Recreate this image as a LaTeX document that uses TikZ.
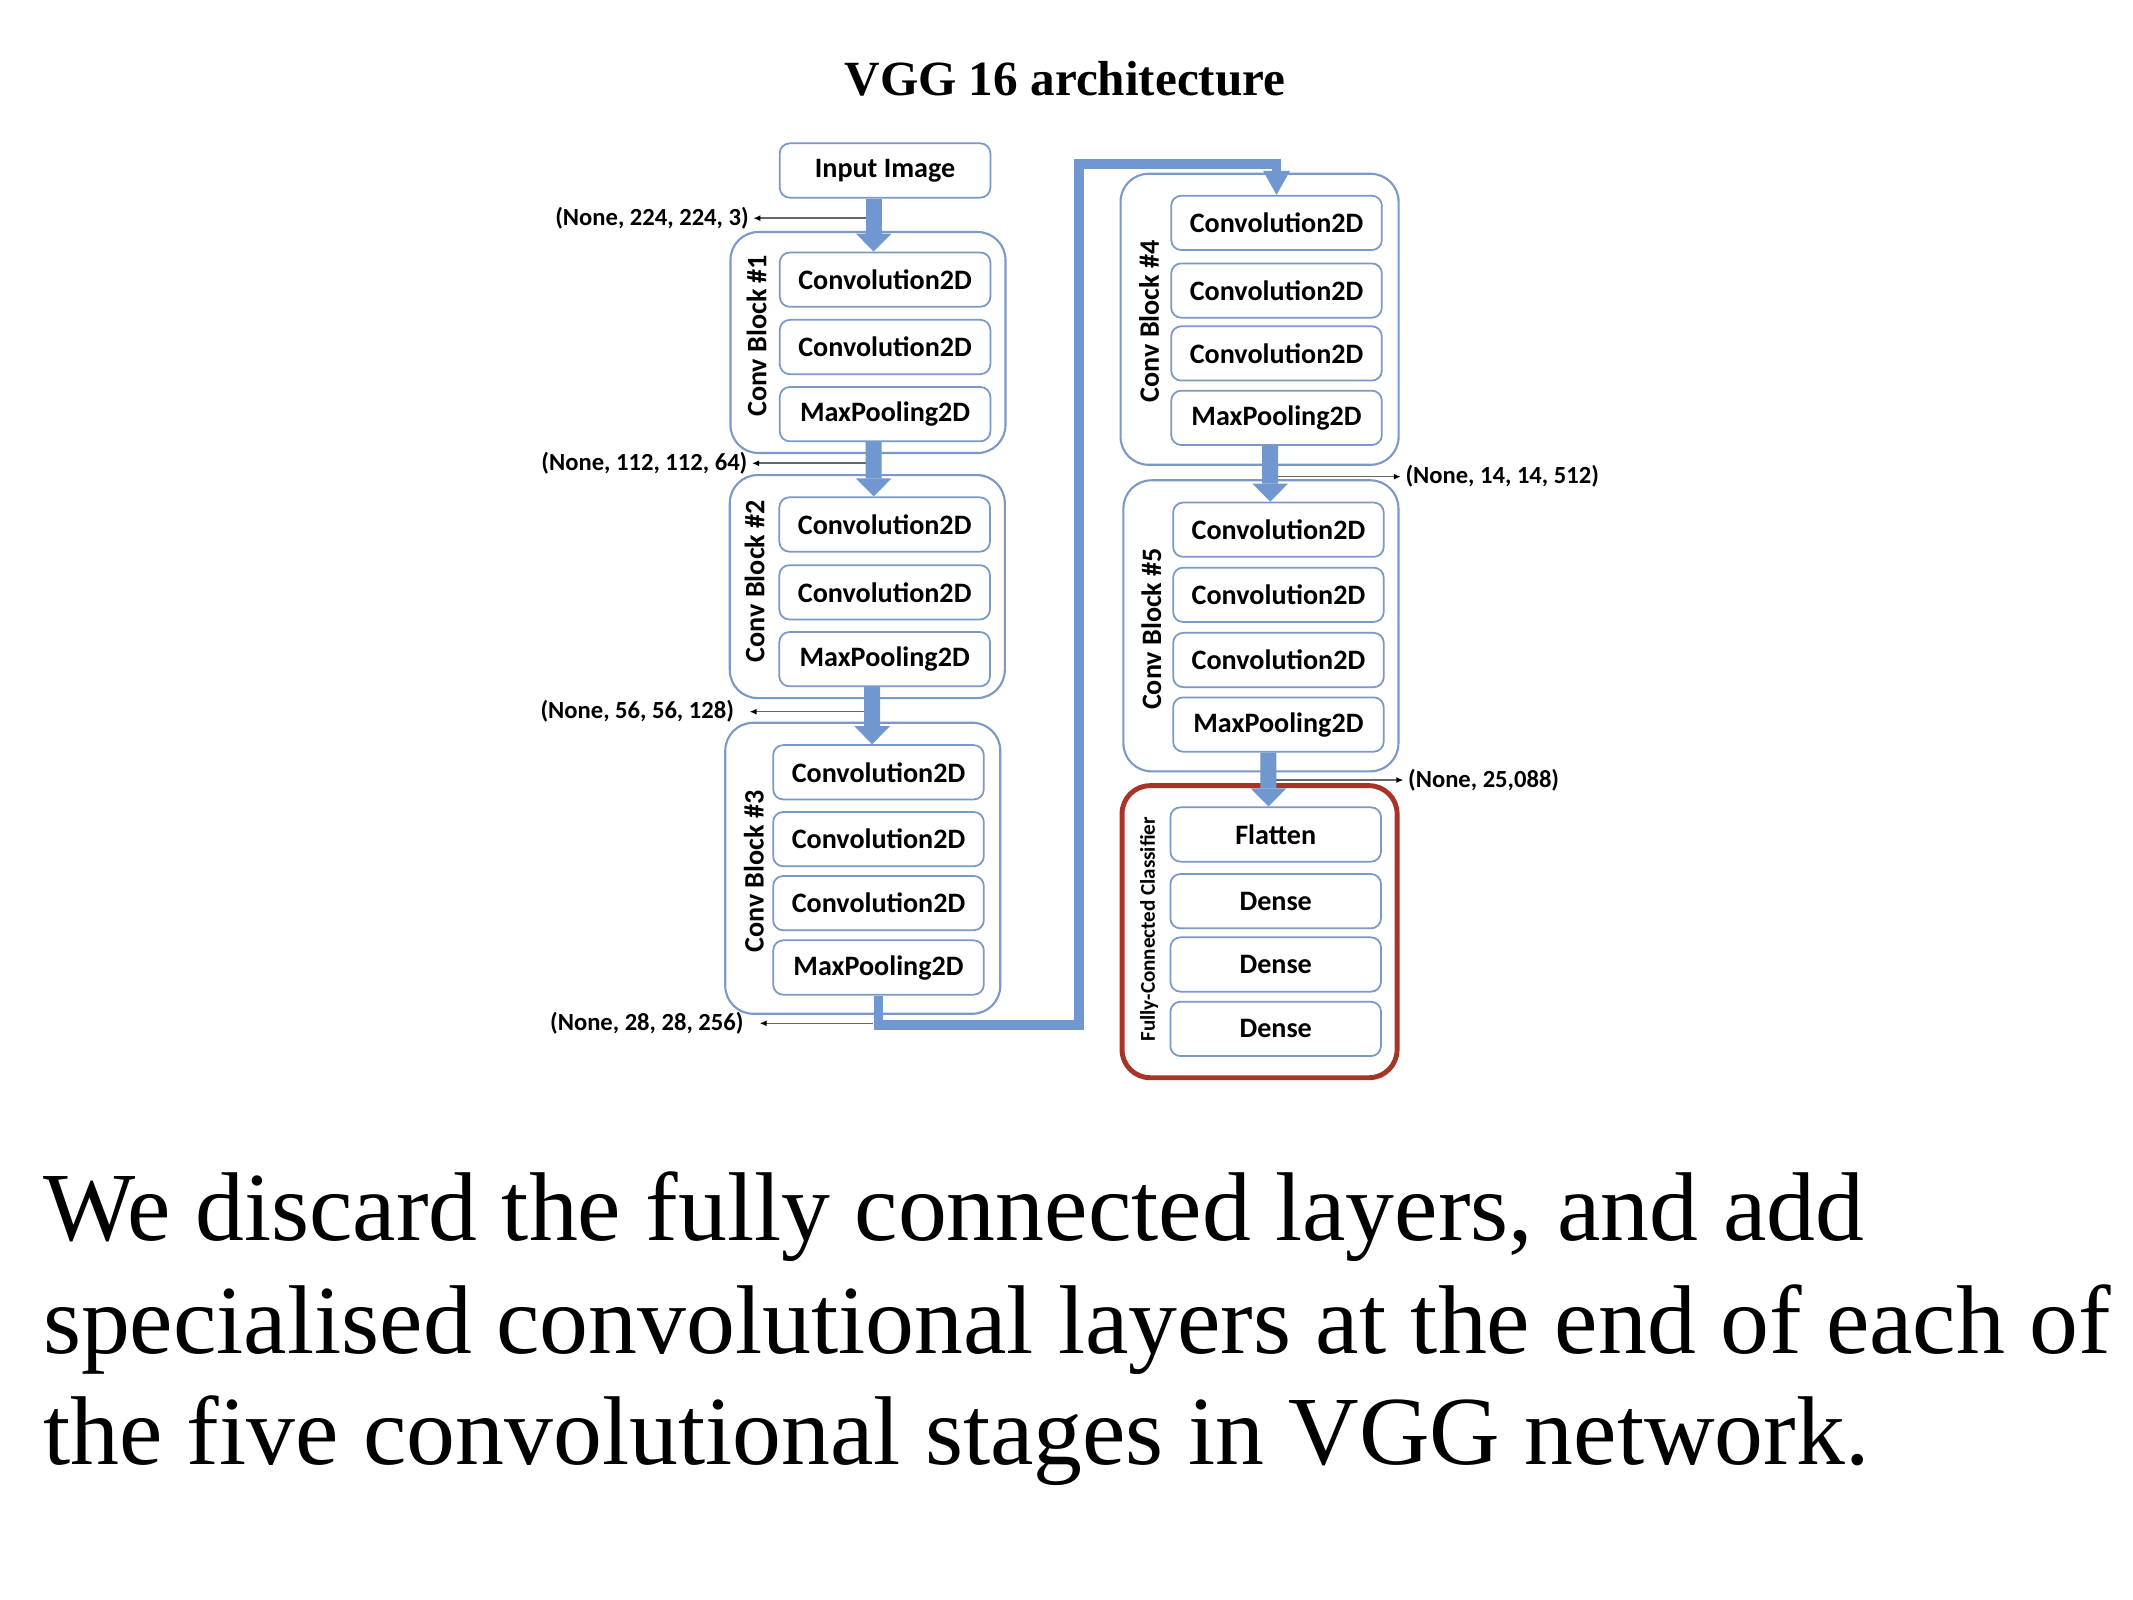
\documentclass[tikz,border=0pt]{standalone}
\usepackage{fontspec}
\setmainfont{Liberation Serif}
\newfontfamily\carlito{Carlito}
\usetikzlibrary{arrows.meta}
\definecolor{boxblue}{RGB}{122,152,200}
\definecolor{arrowblue}{RGB}{112,151,207}
\definecolor{fcred}{RGB}{168,52,40}
\begin{document}
\begin{tikzpicture}[x=0.013675cm, y=-0.013675cm,
  layer/.style={draw=boxblue, line width=0.5pt, rounded corners=0.1cm, fill=white, minimum width=2.106cm, minimum height=0.543cm, inner sep=0pt, font=\carlito\bfseries\fontsize{8}{9.6}\selectfont},
  block/.style={draw=boxblue, line width=0.6pt, rounded corners=0.28cm, inner sep=0pt, minimum width=2.75cm, minimum height=2.91cm},
  blocklabel/.style={rotate=90, inner sep=0pt, font=\carlito\bfseries\fontsize{8}{9.6}\selectfont},
  shapelabel/.style={inner sep=0.04cm, font=\carlito\bfseries\fontsize{7}{8.4}\selectfont},
  shapearrow/.style={draw=black!60, line width=0.45pt, -{Latex[length=0.07cm, width=0.06cm, black]}},
  fatarrow/.style={draw=arrowblue, line width=0.16cm, -{Triangle[width=0.355cm, length=0.18cm, line width=0pt]}},
  link/.style={draw=arrowblue, line width=0.096cm, -{Triangle[width=0.27cm, length=0.24cm, line width=0pt]}},
  caption/.style={anchor=base west, inner sep=0pt, font=\fontsize{27.8}{32}\selectfont}]
\useasboundingbox[fill=white] (0,0) rectangle (1560,1170);

\node[anchor=base, font=\bfseries\fontsize{14}{16.8}\selectfont] (title) at (778.9,69.5) {VGG 16 architecture};

% left column
\node[layer] (in) at (647.3,124.7) {Input Image};

\node[block, minimum height=2.21cm] (b1) at (634.8,250.5) {};
\node[blocklabel] (b1t) at (553.4,245.6) {Conv Block \#1};
\node[layer] (c11) at (647.3,204.5) {Convolution2D};
\node[layer] (c12) at (647.3,253.8) {Convolution2D};
\node[layer] (p1) at (647.3,302.9) {MaxPooling2D};

\node[block, minimum height=2.23cm] (b2) at (634.3,429) {};
\node[blocklabel] (b2t) at (551.9,425) {Conv Block \#2};
\node[layer] (c21) at (647,383.6) {Convolution2D};
\node[layer] (c22) at (647,433.2) {Convolution2D};
\node[layer] (p2) at (647,482.1) {MaxPooling2D};

\node[block] (b3) at (631,635) {};
\node[blocklabel] (b3t) at (551.3,637.5) {Conv Block \#3};
\node[layer] (c31) at (642.5,564.8) {Convolution2D};
\node[layer] (c32) at (642.5,613.7) {Convolution2D};
\node[layer] (c33) at (642.5,660.5) {Convolution2D};
\node[layer] (p3) at (642.5,707.6) {MaxPooling2D};

% right column
\node[block, minimum width=2.78cm] (b4) at (921.2,233.5) {};
\node[blocklabel] (b4t) at (840.4,235) {Conv Block \#4};
\node[layer] (c41) at (933.6,163) {Convolution2D};
\node[layer] (c42) at (933.6,212.5) {Convolution2D};
\node[layer] (c43) at (933.6,258.5) {Convolution2D};
\node[layer] (p4) at (933.6,305.6) {MaxPooling2D};

\node[block] (b5) at (922.2,457.7) {};
\node[blocklabel] (b5t) at (842,460) {Conv Block \#5};
\node[layer] (c51) at (935,387.4) {Convolution2D};
\node[layer] (c52) at (935,435) {Convolution2D};
\node[layer] (c53) at (935,482.7) {Convolution2D};
\node[layer] (p5) at (935,529.9) {MaxPooling2D};

\node[block, draw=fcred, line width=1.4pt, minimum width=2.75cm, minimum height=2.92cm] (fc) at (921.2,681.4) {};
\node[blocklabel, font=\carlito\bfseries\fontsize{6}{7.2}\selectfont] (fct) at (840.4,679.6) {Fully-Connected Classifier};
\node[layer] (fl) at (933,610.3) {Flatten};
\node[layer] (d1) at (933,659.1) {Dense};
\node[layer] (d2) at (933,705.4) {Dense};
\node[layer] (d3) at (933,752.5) {Dense};

% output shapes
\node[shapelabel, anchor=east] (s1) at (551,159.6) {(None, 224, 224, 3)};
\node[shapelabel, anchor=east] (s2) at (550,338.8) {(None, 112, 112, 64)};
\node[shapelabel, anchor=east] (s3) at (540.2,520.5) {(None, 56, 56, 128)};
\node[shapelabel, anchor=east] (s4) at (547.2,748.4) {(None, 28, 28, 256)};
\node[shapelabel, anchor=west] (s5) at (1024.5,348.6) {(None, 14, 14, 512)};
\node[shapelabel, anchor=west] (s6) at (1026.4,570.5) {(None, 25,088)};
\coordinate (a1) at (636,159.6);
\coordinate (a2) at (636,338.8);
\coordinate (a3) at (632,520.5);
\coordinate (a4) at (638.5,748.4);
\coordinate (a5) at (931.8,348.6);
\coordinate (a6) at (931.8,570.5);
\draw[shapearrow] (a1) -- (s1.east);
\draw[shapearrow] (a2) -- (s2.east);
\draw[shapearrow] (a3) -- ([xshift=0.11cm]s3.east);
\draw[shapearrow] (a4) -- ([xshift=0.115cm]s4.east);
\draw[shapearrow] (a5) -- (s5.west);
\draw[shapearrow] (a6) -- (s6.west);

% flow
\draw[fatarrow] ([xshift=-0.114cm]in.south) -- ([xshift=-0.114cm]c11.north);
\draw[fatarrow] ([xshift=-0.114cm]p1.south) -- ([xshift=-0.109cm]c21.north);
\draw[fatarrow] ([xshift=-0.125cm]p2.south) -- ([xshift=-0.064cm]c31.north);
\coordinate (k1) at (789.2,749.6);
\coordinate (k2) at (789.2,120);
\draw[link] (p3.south) |- (k1) -- (k2) -| (c41.north);
\draw[fatarrow] ([xshift=-0.063cm]p4.south) -- ([xshift=-0.082cm]c51.north);
\draw[fatarrow] ([xshift=-0.1cm]p5.south) -- ([xshift=-0.072cm]fl.north);

% caption
\node[caption] (txt1) at (31,906.9) {We discard the fully connected layers, and add};
\node[caption] (txt2) at (31,989.8) {specialised convolutional layers at the end of each of};
\node[caption] (txt3) at (31,1071.4) {the five convolutional stages in VGG network.};
\end{tikzpicture}
\end{document}
